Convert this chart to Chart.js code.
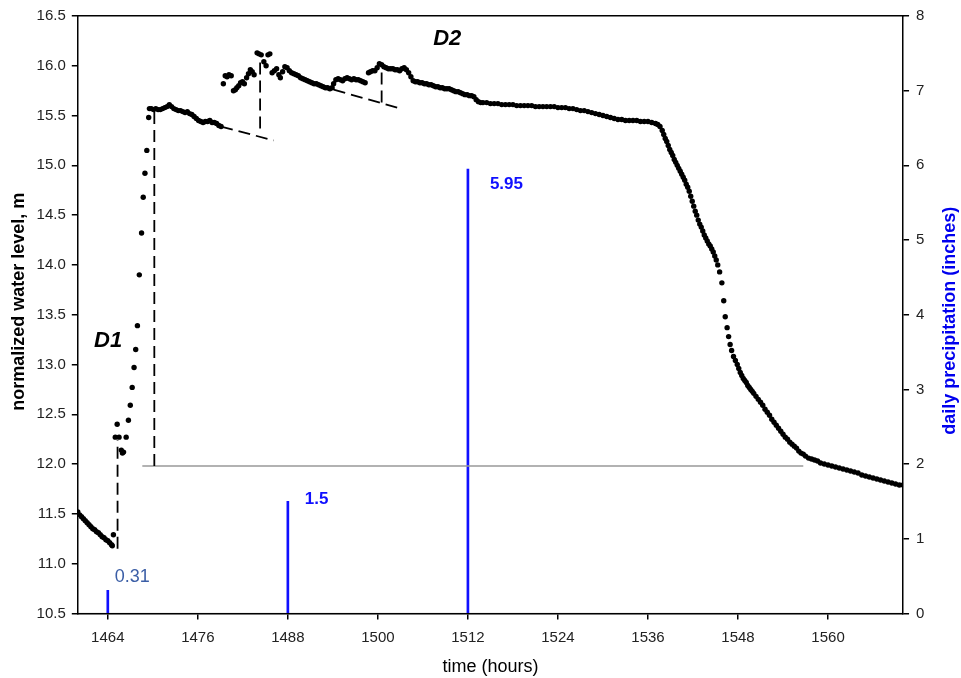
<!DOCTYPE html>
<html>
<head>
<meta charset="utf-8">
<title>water level and precipitation</title>
<script src="https://cdn.jsdelivr.net/npm/chart.js@4.4.1/dist/chart.umd.min.js"></script>
<style>
  html, body { margin: 0; padding: 0; background: #fff; }
  #wrap { width: 961px; height: 678px; }
</style>
</head>
<body>
<div id="wrap"><canvas id="graph" width="961" height="678"></canvas></div>
<script>
// x axis ticks, hours
const timeTicks = [1464, 1476, 1488, 1500, 1512, 1524, 1536, 1548, 1560];

// daily precipitation (inches)
const rainHours = [1464, 1488, 1512];
const rainInches = [0.31, 1.5, 5.95];

// normalized water level, [hour, m]
const waterLevel = [
  [1460.0, 11.52], [1460.25, 11.49], [1460.5, 11.47], [1460.75, 11.45], [1461.0, 11.43],
  [1461.25, 11.41], [1461.5, 11.39], [1461.75, 11.37], [1462.0, 11.35], [1462.25, 11.34],
  [1462.5, 11.32], [1462.75, 11.31], [1463.0, 11.29], [1463.25, 11.27], [1463.5, 11.26],
  [1463.75, 11.24], [1464.0, 11.23], [1464.25, 11.21], [1464.5, 11.19], [1464.6, 11.18],
  // D1 rise
  [1464.75, 11.29], [1465.0, 12.27], [1465.25, 12.40], [1465.5, 12.27], [1465.8, 12.14],
  [1465.95, 12.11], [1466.1, 12.12], [1466.45, 12.27], [1466.75, 12.44], [1467.0, 12.59],
  [1467.25, 12.77], [1467.5, 12.97], [1467.72, 13.15], [1467.95, 13.39], [1468.2, 13.90],
  [1468.5, 14.32], [1468.72, 14.68], [1468.95, 14.92], [1469.2, 15.15], [1469.45, 15.48],
  // first plateau
  [1469.55, 15.57], [1469.8, 15.57], [1470.1, 15.56], [1470.4, 15.57], [1470.7, 15.56],
  [1471.0, 15.56], [1471.3, 15.57], [1471.6, 15.58], [1471.9, 15.59], [1472.2, 15.61],
  [1472.5, 15.59], [1472.8, 15.57], [1473.1, 15.56], [1473.4, 15.55], [1473.7, 15.55],
  [1474.0, 15.54], [1474.3, 15.53], [1474.6, 15.54], [1474.9, 15.52], [1475.2, 15.51],
  [1475.5, 15.49], [1475.8, 15.47], [1476.1, 15.45], [1476.4, 15.44], [1476.7, 15.43],
  [1477.0, 15.44], [1477.3, 15.44], [1477.6, 15.45], [1477.9, 15.43], [1478.2, 15.43],
  [1478.5, 15.42], [1478.8, 15.40], [1479.1, 15.39],
  // D2 cluster
  [1479.4, 15.82], [1479.65, 15.90], [1479.9, 15.89], [1480.15, 15.91], [1480.45, 15.90],
  [1480.75, 15.75], [1481.0, 15.76], [1481.2, 15.78], [1481.45, 15.80], [1481.7, 15.83],
  [1481.95, 15.84], [1482.2, 15.82], [1482.5, 15.88], [1482.75, 15.92], [1483.0, 15.96],
  [1483.25, 15.94], [1483.5, 15.91], [1483.9, 16.13], [1484.15, 16.12], [1484.45, 16.11],
  [1484.8, 16.04], [1485.1, 16.00], [1485.35, 16.11], [1485.6, 16.12],
  [1485.9, 15.93], [1486.2, 15.95], [1486.5, 15.97], [1486.8, 15.91], [1487.0, 15.88],
  [1487.3, 15.94], [1487.6, 15.99], [1487.9, 15.98], [1488.2, 15.95], [1488.5, 15.93],
  [1488.8, 15.92], [1489.1, 15.91], [1489.4, 15.90], [1489.7, 15.88], [1490.0, 15.87],
  [1490.3, 15.86], [1490.6, 15.85], [1490.9, 15.84], [1491.2, 15.83], [1491.5, 15.82],
  [1491.8, 15.82], [1492.1, 15.81], [1492.4, 15.80], [1492.7, 15.79], [1493.0, 15.78],
  [1493.3, 15.78], [1493.6, 15.77], [1493.9, 15.78], [1494.1, 15.82], [1494.4, 15.86],
  [1494.7, 15.87], [1495.0, 15.86], [1495.3, 15.85], [1495.6, 15.87], [1495.9, 15.88],
  [1496.2, 15.87], [1496.5, 15.86], [1496.8, 15.87], [1497.1, 15.86], [1497.4, 15.86],
  [1497.7, 15.85], [1498.0, 15.84], [1498.3, 15.83],
  [1498.75, 15.93], [1499.0, 15.94], [1499.3, 15.95], [1499.6, 15.95], [1499.9, 15.98],
  [1500.2, 16.02], [1500.5, 16.01], [1500.8, 15.99], [1501.1, 15.98], [1501.4, 15.97],
  [1501.7, 15.97], [1502.0, 15.97], [1502.3, 15.96], [1502.6, 15.96], [1502.9, 15.95],
  [1503.2, 15.97], [1503.5, 15.98], [1503.8, 15.96], [1504.1, 15.93], [1504.4, 15.89],
  [1504.7, 15.85], [1505.0, 15.84], [1505.3, 15.84], [1505.6, 15.83], [1505.9, 15.83],
  [1506.2, 15.82], [1506.5, 15.82], [1506.8, 15.81], [1507.1, 15.81], [1507.4, 15.80],
  [1507.7, 15.79], [1508.0, 15.79], [1508.3, 15.78], [1508.6, 15.78], [1508.9, 15.77],
  [1509.2, 15.77], [1509.5, 15.77], [1509.8, 15.76], [1510.1, 15.75], [1510.4, 15.74],
  [1510.7, 15.74], [1511.0, 15.73], [1511.3, 15.72], [1511.6, 15.71], [1511.9, 15.71],
  [1512.2, 15.70], [1512.5, 15.70], [1512.8, 15.69], [1513.1, 15.66], [1513.4, 15.64],
  [1513.7, 15.63], [1514.0, 15.63], [1514.5, 15.63], [1515.0, 15.62], [1515.5, 15.62],
  [1516.0, 15.62], [1516.5, 15.61], [1517.0, 15.61], [1517.5, 15.61], [1518.0, 15.61],
  [1518.5, 15.60], [1519.0, 15.60], [1519.5, 15.60], [1520.0, 15.60], [1520.5, 15.60],
  [1521.0, 15.59], [1521.5, 15.59], [1522.0, 15.59], [1522.5, 15.59], [1523.0, 15.59],
  [1523.5, 15.59], [1524.0, 15.58], [1524.5, 15.58], [1525.0, 15.58], [1525.5, 15.57],
  [1526.0, 15.57], [1526.5, 15.56], [1527.0, 15.55], [1527.5, 15.55], [1528.0, 15.54],
  [1528.5, 15.53], [1529.0, 15.52], [1529.5, 15.51], [1530.0, 15.50], [1530.5, 15.49],
  [1531.0, 15.48], [1531.5, 15.47], [1532.0, 15.46], [1532.5, 15.46], [1533.0, 15.45],
  [1533.5, 15.45], [1534.0, 15.45], [1534.5, 15.45], [1535.0, 15.44], [1535.5, 15.44],
  [1536.0, 15.44], [1536.5, 15.43], [1537.0, 15.42], [1537.3, 15.41],
  // recession
  [1537.6, 15.39], [1537.9, 15.35], [1538.1, 15.31], [1538.3, 15.27], [1538.5, 15.24],
  [1538.7, 15.20], [1538.9, 15.16], [1539.1, 15.13], [1539.3, 15.10], [1539.5, 15.06],
  [1539.7, 15.03], [1539.9, 15.00], [1540.1, 14.97], [1540.3, 14.94], [1540.5, 14.91],
  [1540.7, 14.88], [1540.9, 14.85], [1541.1, 14.81], [1541.3, 14.78], [1541.5, 14.74],
  [1541.7, 14.69], [1541.9, 14.64], [1542.1, 14.59], [1542.3, 14.54], [1542.5, 14.50],
  [1542.7, 14.45], [1542.9, 14.41], [1543.1, 14.38], [1543.3, 14.34], [1543.5, 14.30],
  [1543.7, 14.27], [1543.9, 14.24], [1544.1, 14.21], [1544.3, 14.19], [1544.5, 14.16],
  [1544.7, 14.13], [1544.9, 14.09], [1545.1, 14.05], [1545.3, 14.00], [1545.55, 13.93],
  [1545.85, 13.82], [1546.1, 13.64], [1546.3, 13.48], [1546.55, 13.37], [1546.75, 13.28],
  [1546.95, 13.20], [1547.15, 13.14], [1547.4, 13.08], [1547.65, 13.04], [1547.9, 13.00],
  [1548.1, 12.96], [1548.3, 12.92], [1548.5, 12.89], [1548.7, 12.86], [1548.9, 12.84],
  [1549.1, 12.82], [1549.3, 12.79], [1549.5, 12.77], [1549.7, 12.75], [1549.9, 12.73],
  [1550.1, 12.71], [1550.4, 12.68], [1550.7, 12.65], [1551.0, 12.62], [1551.3, 12.59],
  [1551.6, 12.55], [1551.9, 12.52], [1552.2, 12.49], [1552.5, 12.45], [1552.8, 12.42],
  [1553.1, 12.39], [1553.4, 12.36], [1553.7, 12.33], [1554.0, 12.30], [1554.3, 12.27],
  [1554.6, 12.25], [1554.9, 12.22], [1555.2, 12.20], [1555.5, 12.18], [1555.8, 12.16],
  [1556.1, 12.13], [1556.4, 12.11], [1556.7, 12.10], [1557.0, 12.08], [1557.4, 12.06],
  [1557.8, 12.05], [1558.2, 12.04], [1558.6, 12.03], [1559.0, 12.01], [1559.5, 12.00],
  [1560.0, 11.99], [1560.5, 11.98], [1561.0, 11.97], [1561.5, 11.96], [1562.0, 11.95],
  [1562.5, 11.94], [1563.0, 11.93], [1563.5, 11.92], [1564.0, 11.91], [1564.5, 11.89],
  [1565.0, 11.88], [1565.5, 11.87], [1566.0, 11.86], [1566.5, 11.85], [1567.0, 11.84],
  [1567.5, 11.83], [1568.0, 11.82], [1568.5, 11.81], [1569.0, 11.80], [1569.5, 11.79],
  [1570.0, 11.79]
];

// dashed construction lines, [hour, m]
const guideLines = [
  [[1465.3, 11.15], [1465.3, 12.24]],
  [[1470.2, 11.98], [1470.2, 15.56]],
  [[1479.1, 15.39], [1486.1, 15.25]],
  [[1484.3, 15.37], [1484.3, 16.05]],
  [[1494.1, 15.76], [1502.6, 15.58]],
  [[1500.5, 15.63], [1500.5, 16.02]]
];
// grey reference level
const baseLine = [[1468.6, 11.98], [1556.7, 11.98]];

const toXY = arr => arr.map(p => ({ x: p[0], y: p[1] }));
const font = 'Arial, "Liberation Sans", sans-serif';

const datasets = [{
    type: 'scatter',
    data: toXY(waterLevel),
    yAxisID: 'y',
    backgroundColor: '#000',
    borderWidth: 0,
    pointRadius: 2.7,
    order: 0
}];

guideLines.forEach(g => {
    datasets.push({
        type: 'scatter',
        data: toXY(g),
        yAxisID: 'y',
        showLine: true,
        borderColor: '#000',
        borderWidth: 1.8,
        borderDash: [12, 6],
        pointRadius: 0,
        order: 2
    });
});

datasets.push({
    type: 'scatter',
    data: toXY(baseLine),
    yAxisID: 'y',
    showLine: true,
    borderColor: '#999',
    borderWidth: 1.5,
    pointRadius: 0,
    order: 3
});

datasets.push({
    type: 'bar',
    data: rainHours.map((h, i) => ({ x: h, y: rainInches[i] })),
    yAxisID: 'y2',
    backgroundColor: '#1010ff',
    barThickness: 2,
    order: 4
});

const notes = {
    id: 'notes',
    beforeDraw(chart) {
        const c = chart.ctx, a = chart.chartArea;
        c.save();
        c.strokeStyle = '#c8c8c8';
        c.lineWidth = 1.5;
        c.beginPath();
        c.moveTo(a.left, a.bottom);
        c.lineTo(a.right, a.bottom);
        c.stroke();
        c.restore();
    },
    afterDatasetsDraw(chart) {
        const c = chart.ctx, a = chart.chartArea;
        const x = chart.scales.x, y = chart.scales.y, y2 = chart.scales.y2;
        c.save();
        c.textBaseline = 'middle';
        c.fillStyle = '#000';
        c.textAlign = 'center';
        c.font = 'italic bold 22px ' + font;
        c.fillText('D1', x.getPixelForValue(1464.04), y.getPixelForValue(13.24));
        c.fillText('D2', x.getPixelForValue(1509.24), y.getPixelForValue(16.27));

        c.textAlign = 'left';
        const offs = [[7, -13], [17, -2], [22, 15]];
        rainHours.forEach((h, i) => {
            const px = x.getPixelForValue(h) + offs[i][0];
            const py = y2.getPixelForValue(rainInches[i]) + offs[i][1];
            if (i === 0) {
                c.font = '18px ' + font;
                c.fillStyle = '#3b5ea6';
            } else {
                c.font = 'bold 17px ' + font;
                c.fillStyle = '#1010ff';
            }
            c.fillText(String(rainInches[i]), px, py);
        });

        // axis titles, both reading bottom to top
        c.textAlign = 'center';
        c.font = 'bold 18px ' + font;
        c.fillStyle = '#000';
        c.save();
        c.translate(y.left + 4 + 10.8, (a.top + a.bottom) / 2 - 13);
        c.rotate(-Math.PI / 2);
        c.fillText('normalized water level, m', 0, 0);
        c.restore();
        c.fillStyle = '#0000ee';
        c.save();
        c.translate(y2.right - 10.8, (a.top + a.bottom) / 2 + 6);
        c.rotate(-Math.PI / 2);
        c.fillText('daily precipitation (inches)', 0, 0);
        c.restore();
        c.restore();
    }
};

const ctx = document.getElementById('graph').getContext('2d');
const chart = new Chart(ctx, {
    type: 'scatter',
    data: { datasets: datasets },
    options: {
        responsive: false,
        animation: false,
        layout: { padding: { left: 4, right: 0, top: 16, bottom: 0 } },
        plugins: { legend: { display: false }, tooltip: { enabled: false } },
        scales: {
            x: {
                type: 'linear',
                position: 'bottom',
                min: 1460,
                max: 1570,
                offset: false,
                afterBuildTicks: axis => { axis.ticks = timeTicks.map(v => ({ value: v })); },
                grid: { offset: false, drawOnChartArea: false, color: '#000', lineWidth: 1.5, tickLength: 6 },
                border: { color: '#000', width: 1.5, dash: [12, 5] },
                ticks: { color: '#222', font: { family: font, size: 15 }, padding: 9, maxRotation: 0,
                         callback: v => String(v) },
                title: { display: true, text: 'time (hours)', color: '#000',
                         font: { family: font, size: 18 }, padding: { top: 1, bottom: 0 } }
            },
            xTop: {
                type: 'linear',
                position: 'top',
                min: 1460,
                max: 1570,
                grid: { display: false, drawTicks: false },
                border: { color: '#000', width: 1.5 },
                ticks: { display: false }
            },
            y: {
                type: 'linear',
                position: 'left',
                min: 10.5,
                max: 16.5,
                ticks: { stepSize: 0.5, color: '#222', font: { family: font, size: 15 }, padding: 6,
                         callback: v => v.toFixed(1) },
                grid: { drawOnChartArea: false, color: '#000', lineWidth: 1.5, tickLength: 6 },
                border: { color: '#000', width: 1.5 },
                // drawn by the plugin; kept here to reserve the space
                title: { display: true, text: 'normalized water level, m', color: 'rgba(0,0,0,0)',
                         font: { family: font, size: 18, weight: 'bold' }, padding: { top: 4, bottom: 1 } }
            },
            y2: {
                type: 'linear',
                position: 'right',
                min: 0,
                max: 8,
                ticks: { stepSize: 1, color: '#222', font: { family: font, size: 15 }, padding: 7 },
                grid: { drawOnChartArea: false, color: '#000', lineWidth: 1.5, tickLength: 6 },
                border: { color: '#000', width: 1.5 },
                title: { display: true, text: 'daily precipitation (inches)', color: 'rgba(0,0,0,0)',
                         font: { family: font, size: 18, weight: 'bold' }, padding: { top: 0, bottom: 8 } }
            }
        }
    },
    plugins: [notes]
});
</script>
</body>
</html>
